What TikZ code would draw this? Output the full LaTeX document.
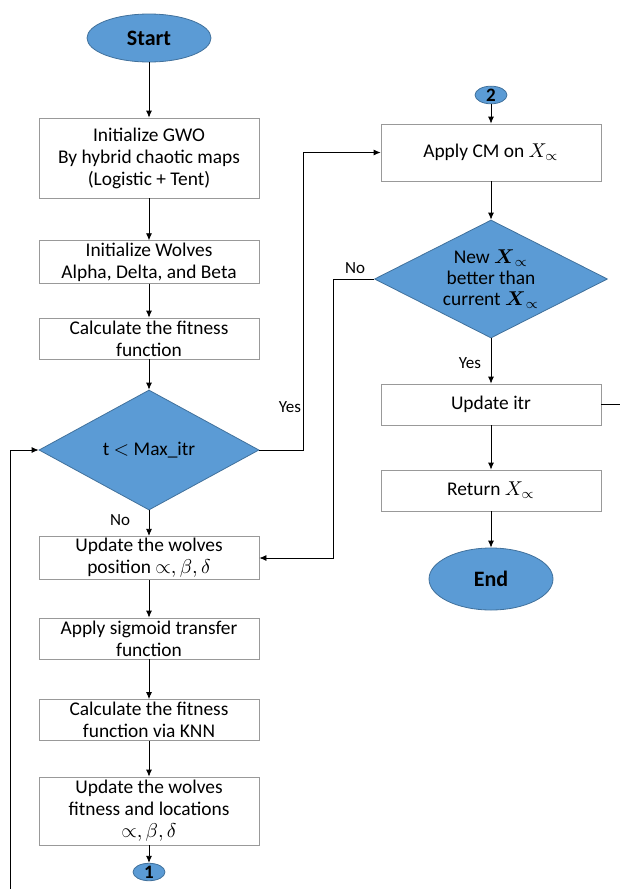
\documentclass[tikz,border=0pt]{standalone}
\usepackage{amsmath}
\usepackage{amssymb}
\usepackage{fontspec}
\setmainfont{Carlito}
\usetikzlibrary{shapes.geometric,arrows.meta}
\definecolor{wblue}{HTML}{5B9BD5}
\definecolor{wedge}{HTML}{41719C}

\begin{document}
\begin{tikzpicture}[x=0.5pt,y=-0.5pt,font=\fontsize{9.7}{11}\selectfont,box/.style={draw=gray!80,thin,align=center,minimum width=110pt,minimum height=20.5pt,inner sep=1pt},term/.style={ellipse,fill=wblue,draw=wedge,font=\fontsize{11}{12}\selectfont\bfseries,minimum width=62pt,minimum height=24pt},conn/.style={ellipse,fill=wblue,draw=wedge,font=\fontsize{9.5}{10}\selectfont\bfseries,inner sep=0pt,minimum width=16pt,minimum height=8.5pt},test/.style={diamond,aspect=2,fill=wblue,draw=wedge,align=center,inner sep=0pt,minimum width=110pt,minimum height=60pt},arr/.style={-{Latex[length=3.5pt,width=3pt]}},lbl/.style={font=\fontsize{8.5}{10}\selectfont}]
\useasboundingbox (0,0) rectangle (620,889);

% left column
\node[term] (start) at (149,38) {Start};
\node[box,minimum height=40pt] (init) at (149,158) {Initialize GWO\\By hybrid chaotic maps\\(Logistic + Tent)};
\node[box] (wolves) at (149,262) {Initialize Wolves\\Alpha, Delta, and Beta};
\node[box] (fit) at (149,338.5) {Calculate the fitness\\function};
\node[test] (cond) at (149,450) {t $<$ Max\_itr};
\node[box] (pos) at (149,558) {Update the wolves\\position $\propto,\beta,\delta$};
\node[box] (sig) at (149,638.5) {Apply sigmoid transfer\\function};
\node[box] (knn) at (149,720) {Calculate the fitness\\function via KNN};
\node[box,minimum height=34pt] (loc) at (149,811) {Update the wolves\\fitness and locations\\$\propto,\beta,\delta$};
\node[conn] (c1) at (149,872) {1};

% right column
\node[conn] (c2) at (491,95) {2};
\node[box,minimum height=28.5pt] (cm) at (491,152.5) {Apply CM on $X_{\propto}$};
\node[test,minimum width=116.5pt,minimum height=59pt,font=\fontsize{9.7}{10.5}\selectfont] (better) at (491,279) {New $\boldsymbol{X}_{\propto}$\\better than\\current $\boldsymbol{X}_{\propto}$};
\node[box] (upd) at (491,404.5) {Update itr};
\node[box] (ret) at (491,490.5) {Return $X_{\propto}$};
\node[term,minimum height=31pt] (stop) at (491,579) {End};

% labels
\node[lbl] (yes1) at (290,407) {Yes};
\node[lbl] (no1) at (120,520) {No};
\node[lbl] (no2) at (355,268) {No};
\node[lbl] (yes2) at (470,363) {Yes};

\coordinate (lp) at (10,889);
\coordinate (rt) at (620,404.5);

\draw[arr] (start) -- (init);
\draw[arr] (init) -- (wolves);
\draw[arr] (wolves) -- (fit);
\draw[arr] (fit) -- (cond);
\draw[arr] (cond) -- (pos);
\draw[arr] (pos) -- (sig);
\draw[arr] (sig) -- (knn);
\draw[arr] (knn) -- (loc);
\draw[arr] (loc) -- (c1);
\draw[arr] (lp) |- (cond.west);
\draw[arr] (cond.east) -- ++(44,0) |- (cm.west);

\draw[arr] (c2) -- (cm);
\draw[arr] (cm) -- (better);
\draw[arr] (better.west) -- ++(-41,0) |- (pos.east);
\draw[arr] (better) -- (upd);
\draw[arr] (upd) -- (ret);
\draw[arr] (ret) -- (stop);
\draw (upd.east) -- (rt);

\end{tikzpicture}
\end{document}
